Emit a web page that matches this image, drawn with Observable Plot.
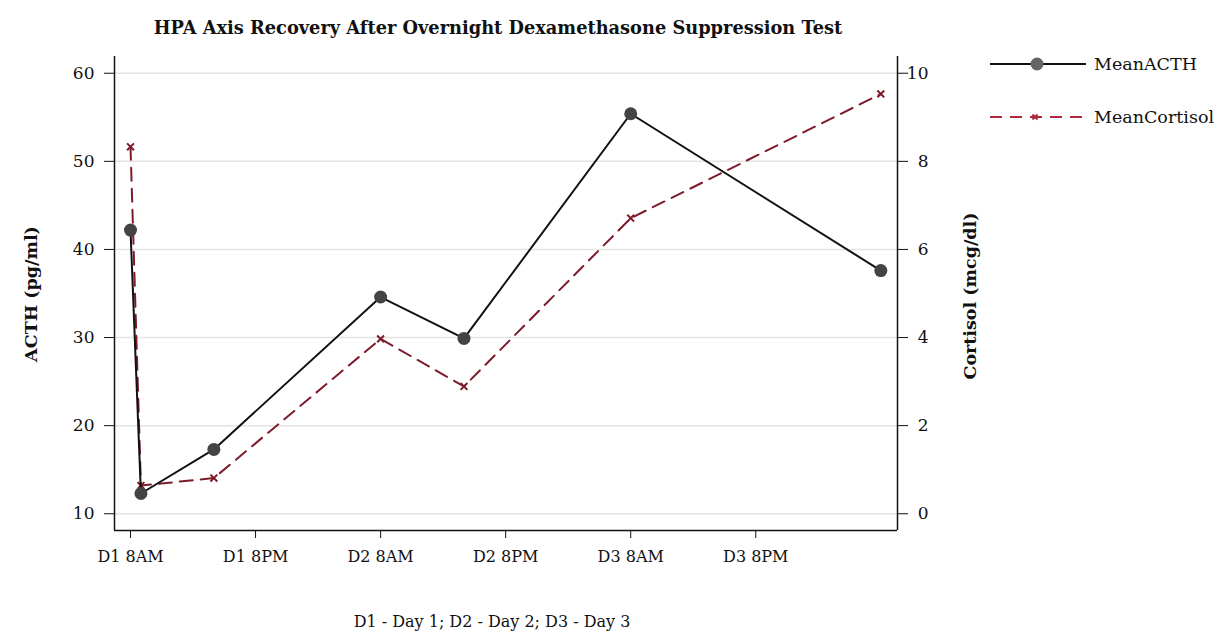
<!DOCTYPE html>
<html>
<head>
<meta charset="utf-8">
<script src="https://cdn.jsdelivr.net/npm/d3@7"></script>
<script src="https://cdn.jsdelivr.net/npm/@observablehq/plot@0.6"></script>
<style>
  html, body { margin: 0; padding: 0; background: #fff; }
  #wrap { position: relative; width: 1223px; height: 632px; font-family: "DejaVu Serif", serif; color: #111; overflow: hidden; }
  #wrap svg.plot { position: absolute; left: 0; top: 0; }
  .abs { position: absolute; white-space: nowrap; }
  #title { left: 0; width: 996px; top: 17px; text-align: center; font-weight: bold; font-size: 17.8px; }
  #note { left: 0; width: 984px; top: 612px; text-align: center; font-size: 16px; }
  .ylab { font-weight: bold; font-size: 17.5px; transform: translate(-50%, -50%) rotate(-90deg); }
  .leg { font-size: 17.5px; display: flex; align-items: center; }
</style>
</head>
<body>
<div id="wrap">
  <div id="title" class="abs">HPA Axis Recovery After Overnight Dexamethasone Suppression Test</div>
  <div id="note" class="abs">D1 - Day 1; D2 - Day 2; D3 - Day 3</div>
  <div class="abs ylab" style="left:31px; top:294px;">ACTH (pg/ml)</div>
  <div class="abs ylab" style="left:970px; top:296px;">Cortisol (mcg/dl)</div>
</div>
<script>
// ---- data ----
const hours = [0, 1, 8, 24, 32, 48, 72];           // hours after D1 8AM
const meanACTH = [42.2, 12.3, 17.3, 34.6, 29.9, 55.4, 37.6];
const meanCortisol = [8.33, 0.64, 0.81, 3.97, 2.89, 6.71, 9.53];
const xTickHours = [0, 12, 24, 36, 48, 60];
const xTickLabels = ["D1 8AM", "D1 8PM", "D2 8AM", "D2 8PM", "D3 8AM", "D3 8PM"];
const acthTicks = [10, 20, 30, 40, 50, 60];
const cortisolTicks = [0, 2, 4, 6, 8, 10];
const seriesNames = ["MeanACTH", "MeanCortisol"];

const xDomain = [-1.536, 73.6];
const yDomain = [8.1, 61.9];
// cortisol is drawn against the ACTH scale: cortisol c sits at ACTH 10 + 5c
const toLeft = c => 10 + 5 * c;
const toRight = a => (a - 10) / 5;

const rows = hours.map((h, i) => ({h, acth: meanACTH[i], cort: toLeft(meanCortisol[i])}));

const cortColor = "#7e1b2a";
const acthLine = "#111";
const acthDot = "#444";

const chart = Plot.plot({
  width: 1223,
  height: 632,
  marginLeft: 114,
  marginRight: 326,
  marginTop: 56,
  marginBottom: 102,
  style: {fontFamily: "DejaVu Serif, serif", fontSize: "16px", color: "#111", background: "transparent"},
  x: {domain: xDomain},
  y: {domain: yDomain},
  marks: [
    Plot.gridY(acthTicks, {stroke: "#e3e3e3", strokeOpacity: 1, strokeWidth: 1.5}),
    Plot.axisY(acthTicks, {anchor: "left", tickSize: 10, tickPadding: 10, label: null, stroke: "#111", fontSize: 17}),
    Plot.axisY(cortisolTicks.map(toLeft), {anchor: "right", tickSize: 10, label: null, tickFormat: () => "", stroke: "#111"}),
    Plot.axisY(cortisolTicks.map(toLeft), {anchor: "right", tickSize: 0, tickPadding: 10, textAnchor: "end", dx: 21, label: null, tickFormat: d => String(toRight(d)), fontSize: 17}),
    Plot.axisX(xTickHours, {anchor: "bottom", tickSize: 8, tickPadding: 12, label: null, tickFormat: (d, i) => xTickLabels[i], stroke: "#111"}),
    Plot.ruleX([xDomain[0]], {stroke: "#111", strokeWidth: 1.5}),
    Plot.ruleX([xDomain[1]], {stroke: "#111", strokeWidth: 1.5}),
    Plot.ruleY([yDomain[0]], {stroke: "#111", strokeWidth: 1.5}),
    Plot.line(rows, {x: "h", y: "cort", stroke: cortColor, strokeWidth: 2, strokeDasharray: "13,8"}),
    Plot.dot(rows, {x: "h", y: "cort", symbol: "times", stroke: cortColor, strokeWidth: 2, r: 3.2}),
    Plot.line(rows, {x: "h", y: "acth", stroke: acthLine, strokeWidth: 2}),
    Plot.dot(rows, {x: "h", y: "acth", fill: acthDot, r: 6.5})
  ]
});
chart.classList.add("plot");
const wrap = document.getElementById("wrap");
wrap.insertBefore(chart, wrap.firstChild);

// legend
const legendRows = [
  {name: seriesNames[0], top: 52, svg: `<svg width="100" height="24"><line x1="2" x2="98" y1="12" y2="12" stroke="#111" stroke-width="2"/><circle cx="49" cy="12" r="6.5" fill="#666"/></svg>`},
  {name: seriesNames[1], top: 105, svg: `<svg width="100" height="24"><line x1="2" x2="98" y1="12" y2="12" stroke="#b02a3c" stroke-width="2" stroke-dasharray="12,8"/><path d="M44.5,9.5l5,5M49.5,9.5l-5,5" stroke="#b02a3c" stroke-width="2"/></svg>`}
];
for (const r of legendRows) {
  const d = document.createElement("div");
  d.className = "abs leg";
  d.style.left = "988px";
  d.style.top = r.top + "px";
  d.innerHTML = r.svg + `<span style="margin-left:6px">${r.name}</span>`;
  wrap.appendChild(d);
}
</script>
</body>
</html>
